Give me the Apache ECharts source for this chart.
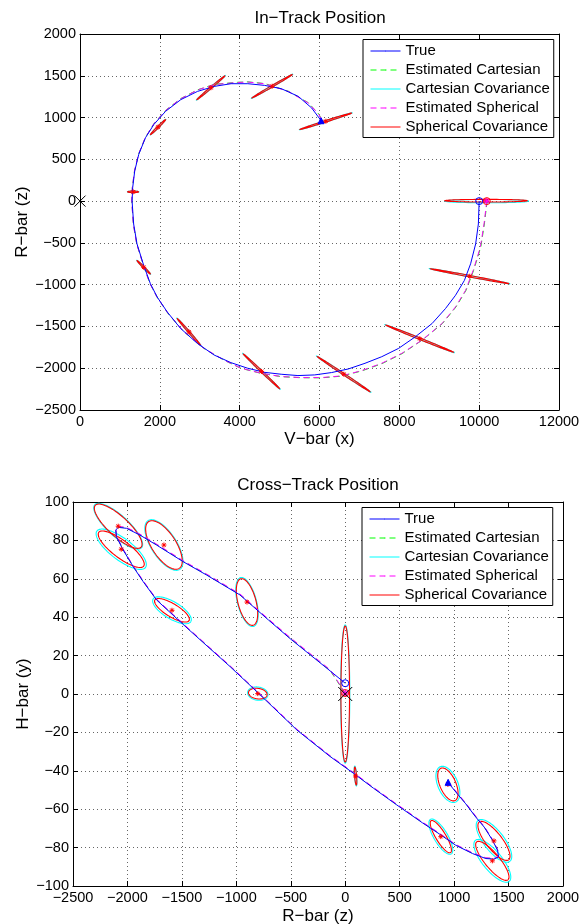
<!DOCTYPE html>
<html><head><meta charset="utf-8">
<script src="https://cdn.jsdelivr.net/npm/echarts@6.0.0/dist/echarts.min.js"></script>
<style>html,body{margin:0;padding:0;background:#fff}#c{width:580px;height:924px}</style>
</head><body><div id="c"></div><script>
// ---------- In-Track (top) data: [V-bar x, R-bar z] ----------
const inTrackTrue = [[10000,0],[9980,-274],[9912,-512],[9786,-750],[9630,-949],[9408,-1127],[9156,-1286],[8820,-1465],[8400,-1624],[7980,-1763],[7560,-1862],[7140,-1941],[6720,-2009],[6300,-2052],[5880,-2080],[5460,-2088],[5040,-2072],[4620,-2049],[4200,-2000],[3780,-1933],[3360,-1842],[2940,-1703],[2520,-1524],[2184,-1326],[1932,-1147],[1764,-989],[1596,-770],[1428,-512],[1344,-274],[1305,0],[1320,163],[1371,361],[1472,560],[1640,758],[1850,917],[2145,1075],[2523,1214],[2944,1313],[3364,1373],[3785,1405],[4205,1405],[4626,1385],[5046,1345],[5467,1254],[5803,1115],[6038,964]];
const inTrackEstSph = [[10190,0],[10122,-274],[10030,-552],[9850,-830],[9660,-1068],[9408,-1266],[9072,-1465],[8568,-1663],[8064,-1822],[7560,-1941],[7056,-2029],[6552,-2092],[6048,-2112],[5544,-2112],[5040,-2100],[4536,-2060],[4032,-2000],[3600,-1900],[3100,-1760],[2600,-1560],[2200,-1340],[1932,-1150],[1750,-985],[1590,-770],[1420,-512],[1335,-274],[1295,0],[1310,163],[1365,361],[1465,560],[1635,758],[1850,925],[2145,1085],[2523,1225],[2944,1330],[3364,1395],[3953,1420],[4205,1425],[4626,1405],[5214,1314],[5719,1175],[5988,1036],[6055,964]];
const inTrackEstCart = [[10200,0],[10130,-274],[10040,-552],[9860,-830],[9670,-1068],[9420,-1266],[9080,-1465],[8575,-1663],[8070,-1825],[7565,-1945],[7060,-2032],[6555,-2095],[6050,-2115],[5545,-2114],[5040,-2101],[4536,-2061],[4032,-2001],[3600,-1902],[3100,-1762],[2600,-1562],[2200,-1342],[1935,-1152],[1752,-987],[1592,-772],[1422,-514],[1337,-276],[1297,0],[1312,165],[1367,363],[1467,562],[1637,760],[1852,927],[2147,1087],[2525,1227],[2946,1332],[3366,1397],[3955,1422],[4207,1427],[4628,1407],[5216,1316],[5721,1177],[5990,1038],[6057,966]];
// covariance ellipses: [centre x, centre z, major-end x, major-end z, minor-end x, minor-end z]
const inTrackSphCov = [[10175,5,11210,5,10175,-11],[9765,-899,10752,-988,9761,-908],[8513,-1647,9366,-1810,8506,-1656],[6610,-2072,7274,-2283,6599,-2080],[4548,-2038,5006,-2247,4535,-2045],[2730,-1566,3024,-1727,2715,-1572],[1596,-792,1764,-873,1582,-798],[1331,111,1470,111,1331,101.6],[1955,886,2145,976,1969,879],[3280,1357,3633,1500,3293,1350],[4814,1375,5323,1516,4824,1367],[6160,956,6812,1055,6166,947]];
const inTrackCartCov = [[10190,0,11240,0,10190,-20],[9765,-899,10775,-990,9761,-908],[8513,-1647,9385,-1815,8506,-1656],[6610,-2072,7295,-2290,6599,-2080],[4548,-2038,5020,-2254,4535,-2045],[2730,-1566,3035,-1733,2715,-1572],[1596,-792,1770,-876,1582,-798],[1331,111,1475,111,1331,101.6],[1955,886,2150,979,1969,879],[3280,1357,3645,1505,3293,1350],[4814,1375,5335,1520,4824,1367],[6160,956,6825,1058,6166,947]];
const inTrackStartTrue = [[10000,0]];
const inTrackStartEst = [[10190,0]];
const inTrackEndTrue = [[6040,962]];
const inTrackOrigin = [[0,0]];

// ---------- Cross-Track (bottom) data: [R-bar z, H-bar y] ----------
const crossTrue = [[0,5.6],[-138,12],[-352,21.8],[-505,28.8],[-704,38.5],[-967,51.6],[-1274,62],[-1488,68.9],[-1733,77.6],[-1886,82.8],[-2009,86.3],[-2085,86.8],[-2107,85.4],[-2101,81.9],[-2039,75],[-1947,66.3],[-1855,58.5],[-1733,49],[-1580,41],[-1426,33],[-1056,14.2],[-796,0.35],[-444,-18.75],[-138,-32.6],[76,-41.3],[260,-49.1],[474,-57.8],[709,-67.1],[862,-72.8],[1015,-78.8],[1169,-83.1],[1291,-85.7],[1368,-86],[1408,-84.8],[1399,-81.4],[1353,-76.2],[1276,-69.3],[1199,-64.1],[1107,-57.2],[1031,-52.1],[969,-47.8],[945,-46]];
const crossEstSph = [[0,0.5],[-138,12.6],[-352,22.4],[-505,29.4],[-704,39],[-967,52.1],[-1274,62.5],[-1488,69.4],[-1733,78.1],[-1886,83.3],[-2009,86.8],[-2085,87.3],[-2107,85.8],[-2101,82.3],[-2039,75.4],[-1947,66.7],[-1855,58.9],[-1733,49.4],[-1580,41.4],[-1426,33.4],[-1056,14.6],[-796,0.75],[-444,-18.35],[-138,-32.2],[76,-40.9],[260,-48.7],[474,-57.4],[709,-66.7],[862,-72.4],[1015,-78.4],[1169,-82.7],[1291,-85.3],[1368,-85.6],[1408,-84.4],[1399,-81],[1353,-75.8],[1276,-68.9],[1199,-63.7],[1107,-56.8],[1031,-51.7],[969,-47.4],[945,-45.6]];
const crossEstCart = [[0,0.3],[-138,12.2],[-352,22],[-505,29],[-704,38.7],[-967,51.8],[-1274,62.2],[-1488,69.1],[-1733,77.8],[-1886,83],[-2009,86.5],[-2085,87],[-2107,85.6],[-2101,82.1],[-2039,75.2],[-1947,66.5],[-1855,58.7],[-1733,49.2],[-1580,41.2],[-1426,33.2],[-1056,14.4],[-796,0.55],[-444,-18.55],[-138,-32.4],[76,-41.1],[260,-48.9],[474,-57.6],[709,-66.9],[862,-72.6],[1015,-78.6],[1169,-82.9],[1291,-85.5],[1368,-85.8],[1408,-84.6],[1399,-81.2],[1353,-76],[1276,-69.1],[1199,-63.9],[1107,-57],[1031,-51.9],[969,-47.6],[945,-45.8]];
const crossSphCov = [[-2085,87.4,-1875,76.5,-2147,83.6],[-2057,75.4,-1851,66.6,-2104,71.8],[-1665,77.6,-1525,65.4,-1758,74.2],[-1591,43.6,-1434,38.2,-1622,40.7],[-902,47.9,-845,35.8,-982,46.7],[-803,0.2,-718,-0.5,-810,-2.5],[0,0,0,35.4,39.5,0],[95,-42.7,88,-38,104,-42.7],[943,-47.1,1008,-55.5,876,-48.8],[878,-74.3,967,-82.6,839,-75.7],[1366,-76.5,1502,-86.3,1309,-79.2],[1351,-86.9,1496,-96.7,1302,-89.6]];
const crossCartCov = [[-2085,87.4,-1870,76.2,-2150,83.4],[-2057,75.4,-1834,65.9,-2116,70.9],[-1665,77.6,-1519,64.9,-1762,74],[-1591,43.6,-1418,37.7,-1631,39.8],[-902,47.9,-842,35.2,-986,46.6],[-803,0.2,-710,-0.6,-812,-3.2],[0,0,0,36,42,0],[95,-42.7,87.5,-37.5,105,-42.7],[943,-47.1,1014,-56.3,859,-49.2],[878,-74.3,974,-83.3,825,-76.2],[1366,-76.5,1513,-87.1,1295,-79.9],[1351,-86.9,1508,-97.5,1287,-90.4]];
const crossStartTrue = [[0,5.6]];
const crossStartEst = [[0,0.5]];
const crossEndTrue = [[945,-46]];
const crossOrigin = [[0,0]];

const legendNames = ['True','Estimated Cartesian','Cartesian Covariance','Estimated Spherical','Spherical Covariance'];

// ---------- chart ----------
const FONT = '"Liberation Sans", Arial, Helvetica, sans-serif';
const fmt = v => v < 0 ? '\u2212' + Math.abs(v) : String(v);
const C = {blue:'#0000ff', green:'#00ff00', cyan:'#00ffff', magenta:'#ff00ff', red:'#ff0000'};

function mkAxis(o) {
  return {
    type:'value', gridIndex:o.g, position:o.pos, min:o.min, max:o.max, interval:o.iv,
    name:o.name || '', nameLocation:'middle', nameGap:o.nameGap || 0, nameMoveOverlap:false,
    nameTextStyle:{fontFamily:FONT, fontSize:17, color:'#000'},
    axisLine:{show:true, onZero:false, lineStyle:{color:'#000', width:1}},
    axisTick:{show:true, inside:true, length:5, lineStyle:{color:'#000', width:1}},
    axisLabel:{show:!!o.labels, margin:o.margin || 4, color:'#000', fontFamily:FONT, fontSize:14.5,
      formatter:fmt, showMinLabel:true, showMaxLabel:true, hideOverlap:false},
    splitLine:{show:!!o.labels, lineStyle:{color:'#666', width:1, type:[1,3]}},
    axisPointer:{show:false}
  };
}
function lineS(name, data, color, dashed, xi, yi) {
  return {type:'line', name, data, xAxisIndex:xi, yAxisIndex:yi, symbol:'none', showSymbol:false,
    lineStyle:{color, width:1, type: dashed ? [6,4] : 'solid'}, itemStyle:{color}, silent:true, clip:true, z:3};
}
function ellS(name, data, color, xi, yi) {
  return {type:'custom', name, data, xAxisIndex:xi, yAxisIndex:yi, itemStyle:{color}, clip:true, silent:true, z:2,
    renderItem(params, api) {
      const cx = api.value(0), cy = api.value(1), mx = api.value(2), my = api.value(3), nx = api.value(4), ny = api.value(5);
      const pts = [];
      for (let i = 0; i <= 96; i++) {
        const t = i / 96 * 2 * Math.PI, c = Math.cos(t), s = Math.sin(t);
        pts.push(api.coord([cx + c * (mx - cx) + s * (nx - cx), cy + c * (my - cy) + s * (ny - cy)]));
      }
      return {type:'polyline', shape:{points:pts}, style:{stroke:color, fill:null, lineWidth:1.1}};
    }};
}
function mark(name, data, symbol, size, stroke, fill, xi, yi) {
  return {type:'scatter', name, data, xAxisIndex:xi, yAxisIndex:yi, symbol, symbolSize:size, silent:true, z:5,
    itemStyle:{color:fill || 'rgba(0,0,0,0)', borderColor:stroke, borderWidth:1, opacity:1}};
}
const STAR = 'path://M5 0V10M0 5H10M1.5 1.5L8.5 8.5M8.5 1.5L1.5 8.5';
const XMARK = 'path://M0 0L10 10M10 0L0 10';

function plotSeries(xi, yi, tr, ec, es, cc, sc, startT, startE, endT, origin, oSize) {
  return [
    ellS('Cartesian Covariance', cc, C.cyan, xi, yi),
    ellS('Spherical Covariance', sc, C.red, xi, yi),
    lineS('Estimated Cartesian', ec, C.green, true, xi, yi),
    lineS('Estimated Spherical', es, C.magenta, true, xi, yi),
    lineS('True', tr, C.blue, false, xi, yi),
    mark('centres' + xi, sc.map(e => [e[0], e[1]]), STAR, 5, C.red, null, xi, yi),
    mark('startT' + xi, startT, 'circle', 7, C.blue, null, xi, yi),
    mark('startE' + xi, startE, 'circle', 7, C.red, null, xi, yi),
    mark('startES' + xi, startE, STAR, 6, C.magenta, null, xi, yi),
    mark('endT' + xi, endT, 'triangle', 6, C.blue, C.blue, xi, yi),
    mark('origin' + xi, origin, XMARK, oSize, '#000', null, xi, yi)
  ];
}

const legendData = legendNames.map(n => (n.indexOf('Covariance') >= 0 ? {name:n, icon:'rect'} : {name:n}));
function mkLegend(left, top) {
  return {data:legendData, orient:'vertical', left, top, itemWidth:30, itemHeight:1, itemGap:4,
    padding:[4,4,3,7], borderColor:'#000', borderWidth:1, borderRadius:0, backgroundColor:'#fff',
    lineStyle:{width:1, color:'inherit', type:'inherit'},
    textStyle:{fontFamily:FONT, fontSize:15, color:'#000'}, selectedMode:false, z:10};
}

const chart = echarts.init(document.getElementById('c'), null, {renderer:'canvas'});
chart.setOption({
  animation:false,
  backgroundColor:'#fff',
  title:[
    {text:'In\u2212Track Position', left:320, top:9.5, textAlign:'center', padding:0,
      textStyle:{fontFamily:FONT, fontSize:17, fontWeight:'normal', color:'#000'}},
    {text:'Cross\u2212Track Position', left:318, top:476.5, textAlign:'center', padding:0,
      textStyle:{fontFamily:FONT, fontSize:17, fontWeight:'normal', color:'#000'}}
  ],
  grid:[
    {left:80, top:34, width:479, height:376, containLabel:false, outerBoundsMode:'none'},
    {left:73, top:502, width:490, height:384, containLabel:false, outerBoundsMode:'none'}
  ],
  xAxis:[
    mkAxis({g:0, pos:'bottom', min:0, max:12000, iv:2000, labels:true, name:'V\u2212bar (x)', nameGap:21, margin:4}),
    mkAxis({g:0, pos:'top', min:0, max:12000, iv:2000}),
    mkAxis({g:1, pos:'bottom', min:-2500, max:2000, iv:500, labels:true, name:'R\u2212bar (z)', nameGap:22, margin:4}),
    mkAxis({g:1, pos:'top', min:-2500, max:2000, iv:500})
  ],
  yAxis:[
    mkAxis({g:0, pos:'left', min:-2500, max:2000, iv:500, labels:true, name:'R\u2212bar (z)', nameGap:49, margin:4}),
    mkAxis({g:0, pos:'right', min:-2500, max:2000, iv:500}),
    mkAxis({g:1, pos:'left', min:-100, max:100, iv:20, labels:true, name:'H\u2212bar (y)', nameGap:41, margin:4}),
    mkAxis({g:1, pos:'right', min:-100, max:100, iv:20})
  ],
  legend:[mkLegend(363, 39.5), mkLegend(362, 507.5)],
  series:[].concat(
    plotSeries(0, 0, inTrackTrue, inTrackEstCart, inTrackEstSph, inTrackCartCov, inTrackSphCov,
      inTrackStartTrue, inTrackStartEst, inTrackEndTrue, inTrackOrigin, 11),
    plotSeries(2, 2, crossTrue, crossEstCart, crossEstSph, crossCartCov, crossSphCov,
      crossStartTrue, crossStartEst, crossEndTrue, crossOrigin, 14)
  )
});
</script></body></html>
